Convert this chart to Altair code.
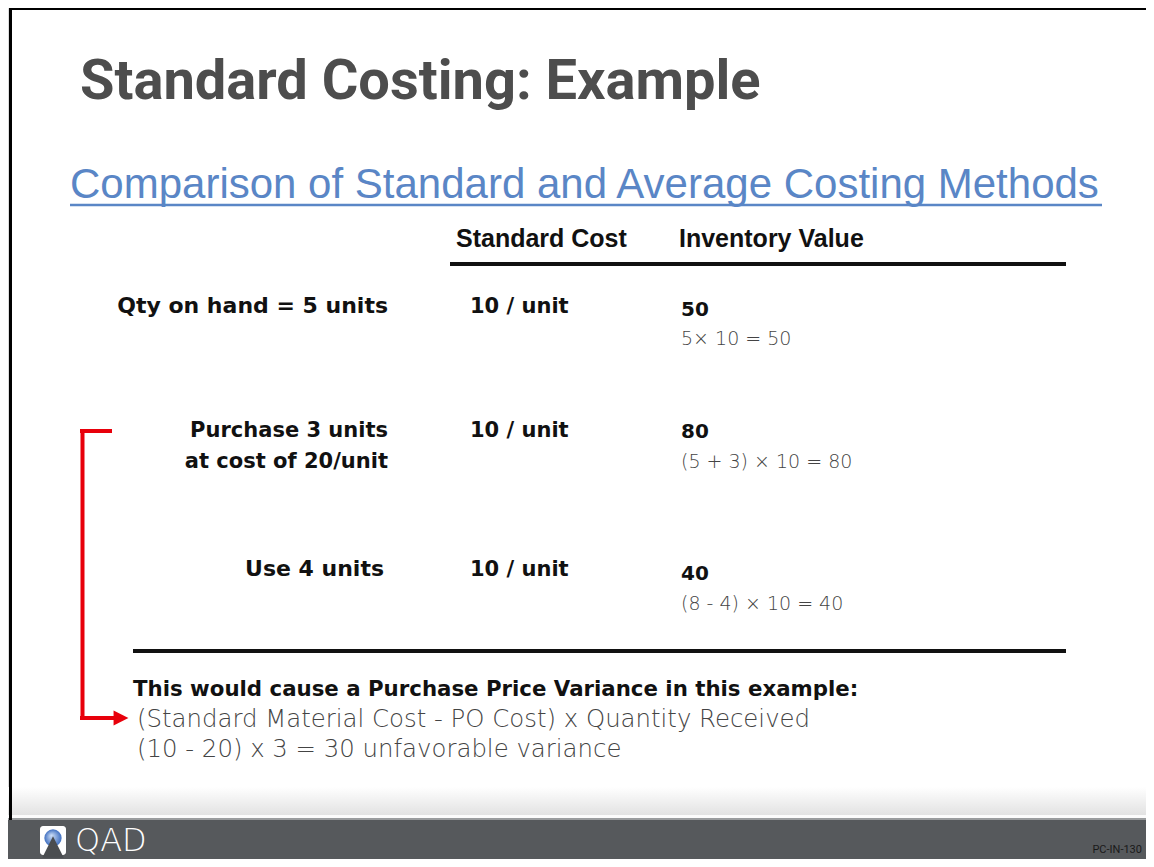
import altair as alt
import pandas as pd

# ---------------- content ----------------
TITLE = "Standard Costing: Example"
SUBTITLE = "Comparison of Standard and Average Costing Methods"
HEADERS = ["Standard Cost", "Inventory Value"]
ROW_LABELS = ["Qty on hand = 5 units", "Purchase 3 units", "at cost of 20/unit"]
ROW_LABEL_USE = ["Use 4 units"]
STD_COSTS = ["10 / unit", "10 / unit", "10 / unit"]
INV_VALUES = ["50", "80", "40"]
INV_FORMULAS = ["5\u00d7 10 = 50", "(5 + 3) \u00d7 10 = 80", "(8 - 4) \u00d7 10 = 40"]
NOTE_HEAD = ["This would cause a Purchase Price Variance in this example:"]
NOTE_LINES = ["(Standard Material Cost - PO Cost) x Quantity Received",
              "(10 - 20) x 3 = 30 unfavorable variance"]
LOGO_TEXT = ["QAD"]
SLIDE_ID = ["PC-IN-130"]

# ---------------- layout (slide coordinates) ----------------
TITLE_POS = (80, 99)
SUB_POS = (70, 198)
HEADER_X = [456, 679]
HEADER_Y = 247
LABEL_X = 388
LABEL_Y = [313, 437, 468]
USE_POS = (384, 576)
STD_X = 470
STD_Y = [313, 437, 576]
INV_X = 681
INV_Y = [316, 438, 580]
FORM_Y = [345, 468, 610]
NOTE_X = 133
NOTE_HEAD_Y = [696]
NOTE_LINE_X = 137
NOTE_LINE_Y = [727, 757]

xs = alt.Scale(domain=[8, 1146], nice=False, zero=False)
ys = alt.Scale(domain=[8, 859], nice=False, zero=False, reverse=True)
X = lambda f="x": alt.X(f"{f}:Q", scale=xs, axis=None)
Y = lambda f="y": alt.Y(f"{f}:Q", scale=ys, axis=None)


def text_layer(texts, xs_, ys_, **style):
    df = pd.DataFrame({"t": texts, "x": xs_, "y": ys_})
    style.setdefault("baseline", "alphabetic")
    style.setdefault("align", "left")
    return alt.Chart(df).mark_text(**style).encode(x=X(), y=Y(), text="t:N")


def rule_layer(rows, **style):
    df = pd.DataFrame(rows, columns=["x", "x2", "y", "y2"])
    return alt.Chart(df).mark_rule(**style).encode(
        x=X(), x2="x2:Q", y=Y(), y2="y2:Q")


def rect_layer(rows, **style):
    df = pd.DataFrame(rows, columns=["x", "x2", "y", "y2"])
    return alt.Chart(df).mark_rect(**style).encode(
        x=X(), x2="x2:Q", y=Y(), y2="y2:Q")


BODY_BOLD = "DejaVu Sans"
LIGHT = "DejaVu Sans"
TITLE_FONT = "Roboto"
SMALL_FONT = "Roboto"

layers = []

# footer background
layers.append(rect_layer([[8, 1146, 787, 815]], fill=alt.Gradient(
    gradient="linear", x1=0, x2=0, y1=0, y2=1,
    stops=[alt.GradientStop(color="#ffffff", offset=0),
           alt.GradientStop(color="#e2e2e2", offset=1)])))
layers.append(rect_layer([[8, 1146, 815, 818]], fill="#fbfbfb"))
layers.append(rect_layer([[8, 1146, 818, 820]], fill="#9a9c9e"))
layers.append(rect_layer([[8, 1146, 820, 859]], fill="#56595c"))

# borders
layers.append(rule_layer([[10.5, 10.5, 8, 820]], color="#000000", strokeWidth=3))
layers.append(rule_layer([[10, 1146, 8.5, 8.5]], color="#000000", strokeWidth=3))

# title and subtitle
layers.append(text_layer([TITLE], [TITLE_POS[0]], [TITLE_POS[1]],
                         font=TITLE_FONT, fontSize=56, fontWeight="bold",
                         color="#4d4d4d"))
layers.append(text_layer([SUBTITLE], [SUB_POS[0]], [SUB_POS[1]],
                         font="Liberation Sans", fontSize=42, color="#5a86c6"))
layers.append(rule_layer([[70, 1102, 205, 205]], color="#5a86c6", strokeWidth=2.5))

# headers
layers.append(text_layer(HEADERS, HEADER_X, [HEADER_Y] * 2,
                         font="Liberation Sans", fontSize=25, fontWeight="bold",
                         color="#111111"))
layers.append(rule_layer([[450, 1066, 264, 264], [133, 1066, 651, 651]],
                         color="#111111", strokeWidth=4))

# rows
layers.append(text_layer(ROW_LABELS[:1], [LABEL_X], LABEL_Y[:1], align="right",
                         font=BODY_BOLD, fontSize=22, fontWeight="bold", color="#111111"))
layers.append(text_layer(ROW_LABELS[1:], [LABEL_X] * 2, LABEL_Y[1:], align="right",
                         font=BODY_BOLD, fontSize=21, fontWeight="bold", color="#111111"))
layers.append(text_layer(ROW_LABEL_USE, [USE_POS[0]], [USE_POS[1]], align="right",
                         font=BODY_BOLD, fontSize=22, fontWeight="bold", color="#111111"))
layers.append(text_layer(STD_COSTS, [STD_X] * 3, STD_Y,
                         font=BODY_BOLD, fontSize=21, fontWeight="bold", color="#111111"))
layers.append(text_layer(INV_VALUES, [INV_X] * 3, INV_Y,
                         font=BODY_BOLD, fontSize=20, fontWeight="bold", color="#111111"))
layers.append(text_layer(INV_FORMULAS, [INV_X] * 3, FORM_Y,
                         font=LIGHT, fontSize=19, fontWeight=200, color="#444444"))

# note
layers.append(text_layer(NOTE_HEAD, [NOTE_X], NOTE_HEAD_Y,
                         font=BODY_BOLD, fontSize=21.3, fontWeight="bold", color="#111111"))
layers.append(text_layer(NOTE_LINES, [NOTE_LINE_X] * 2, NOTE_LINE_Y,
                         font=LIGHT, fontSize=24.4, fontWeight=200, color="#444444"))

# red bracket with arrow
layers.append(rule_layer([[80, 112, 431, 431], [82.5, 82.5, 429, 720], [80, 116, 718, 718]],
                         color="#e8000b", strokeWidth=4))
arrow = pd.DataFrame({"x": [121], "y": [718]})
layers.append(alt.Chart(arrow).mark_point(
    shape="M-1,-1L1,0L-1,1Z", filled=True, color="#e8000b", opacity=1, size=220
).encode(x=X(), y=Y()))

# logo
layers.append(rect_layer([[40, 66, 826, 855]], fill="#ffffff", cornerRadius=3))
sphere = pd.DataFrame({"x": [53], "y": [838]})
layers.append(alt.Chart(sphere).mark_point(
    shape="circle", filled=True, opacity=1, size=300,
    fill=alt.Gradient(gradient="radial", x1=0.4, y1=0.35, r1=0, x2=0.5, y2=0.5, r2=0.5,
                      stops=[alt.GradientStop(color="#cfe0f7", offset=0),
                             alt.GradientStop(color="#3f6fc0", offset=1)])
).encode(x=X(), y=Y()))
peak = pd.DataFrame({"x": [53], "y": [847]})
layers.append(alt.Chart(peak).mark_point(
    shape="M-1,1L0,-1L1,1Z", filled=True, color="#4a4d50", opacity=1, size=460
).encode(x=X(), y=Y()))
layers.append(text_layer(LOGO_TEXT, [75], [851], font="DejaVu Sans", fontSize=32,
                         fontWeight=300, color="#ffffff"))
layers.append(text_layer(SLIDE_ID, [1142], [853], align="right",
                         font=SMALL_FONT, fontSize=11, color="#1a1a1a"))

chart = alt.layer(*layers).properties(
    width=1138, height=851, padding=0, autosize=alt.AutoSizeParams(type="none")
).configure_view(stroke=None).configure(background="#ffffff")

chart.save("out.html", embed_options={"renderer": "svg", "actions": False})
